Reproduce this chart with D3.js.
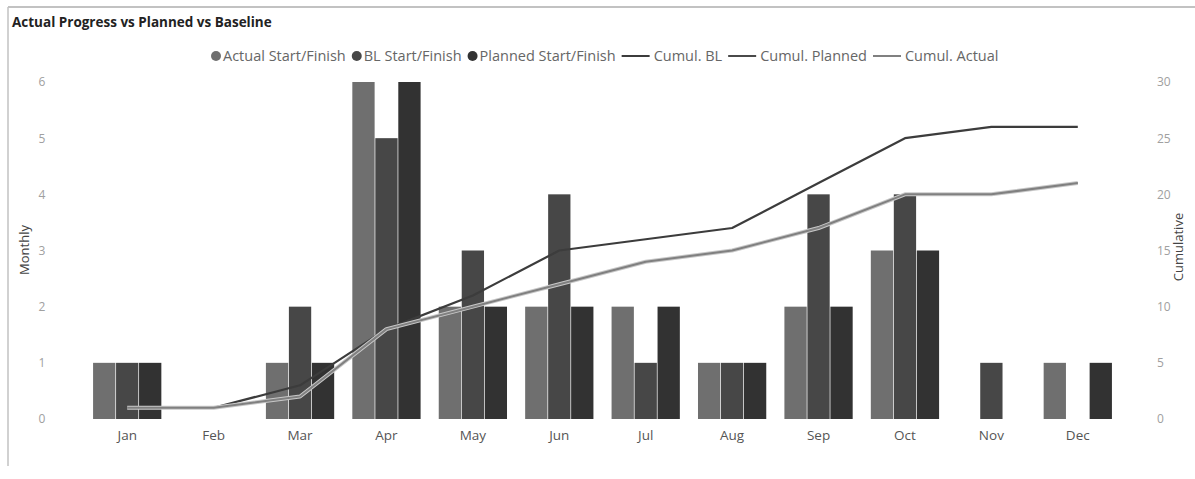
<!DOCTYPE html>
<html>
<head>
<meta charset="utf-8">
<script src="https://cdn.jsdelivr.net/npm/d3@7"></script>
<style>
  html, body { margin: 0; padding: 0; background: #fff; }
  svg { display: block; font-family: "Open Sans", "Noto Sans", sans-serif; }
</style>
</head>
<body>
<svg id="chart" width="1195" height="479"></svg>
<script>
// Monthly counts and cumulative totals
const months = ["Jan","Feb","Mar","Apr","May","Jun","Jul","Aug","Sep","Oct","Nov","Dec"];
const actualMonthly  = [1,0,1,6,2,2,2,1,2,3,0,1];
const blMonthly      = [1,0,2,5,3,4,1,1,4,4,1,0];
const plannedMonthly = [1,0,1,6,2,2,2,1,2,3,0,1];
const cumulBL      = [1,1,3,8,11,15,16,17,21,25,26,26];
const cumulPlanned = [1,1,2,8,10,12,14,15,17,20,20,21];
const cumulActual  = [1,1,2,8,10,12,14,15,17,20,20,21];
const leftTicks  = [0,1,2,3,4,5,6];
const rightTicks = [0,5,10,15,20,25,30];

const barSeries = [
  { name: "Actual Start/Finish",  values: actualMonthly,  color: "#6f6f6f" },
  { name: "BL Start/Finish",      values: blMonthly,      color: "#474747" },
  { name: "Planned Start/Finish", values: plannedMonthly, color: "#323232" }
];
const lineSeries = [
  { name: "Cumul. BL",      values: cumulBL,      color: "#3c3c3c", width: 2.2, halo: null },
  { name: "Cumul. Planned", values: cumulPlanned, color: "#4a4a4a", width: 2.2, halo: null },
  { name: "Cumul. Actual",  values: cumulActual,  color: "#808080", width: 2,   halo: "#c8c8c8" }
];

const svg = d3.select("#chart");
const plot = { left: 84, right: 1121, top: 82, bottom: 419 };

// Card frame
svg.append("line").attr("x1", 8).attr("x2", 1195).attr("y1", 7).attr("y2", 7)
  .attr("stroke", "#c2c2c2").attr("stroke-width", 2);
svg.append("line").attr("x1", 8).attr("x2", 8).attr("y1", 7).attr("y2", 466)
  .attr("stroke", "#c2c2c2").attr("stroke-width", 1.5);

svg.append("text").attr("x", 12).attr("y", 27)
  .attr("font-size", 13.5).attr("font-weight", 700).attr("fill", "#222")
  .text("Actual Progress vs Planned vs Baseline");

// Scales
const x = d3.scaleBand().domain(months).range([plot.left, plot.right])
  .paddingInner(0.21).paddingOuter(0.105);
const xSub = d3.scaleBand().domain(barSeries.map(s => s.name))
  .range([0, x.bandwidth()]).paddingInner(0.03);
const yLeft = d3.scaleLinear().domain([0, 6]).range([plot.bottom, plot.top]);
const yRight = d3.scaleLinear().domain([0, 30]).range([plot.bottom, plot.top]);

// Left axis
const leftAxis = svg.append("g").attr("transform", `translate(${plot.left - 42},0)`)
  .call(d3.axisLeft(yLeft).tickValues(leftTicks).tickFormat(d3.format("d")).tickSize(0).tickPadding(0));
leftAxis.select(".domain").remove();
leftAxis.selectAll("text").attr("fill", "#a0a0a0").attr("font-size", 12)
  .attr("text-anchor", "middle").attr("font-family", "Open Sans, sans-serif");

// Right axis
const rightAxis = svg.append("g").attr("transform", `translate(${plot.right + 36},0)`)
  .call(d3.axisRight(yRight).tickValues(rightTicks).tickFormat(d3.format("d")).tickSize(0).tickPadding(0));
rightAxis.select(".domain").remove();
rightAxis.selectAll("text").attr("fill", "#a0a0a0").attr("font-size", 12)
  .attr("font-family", "Open Sans, sans-serif");

// Bottom axis
const bottomAxis = svg.append("g").attr("transform", `translate(0,${plot.bottom + 7})`)
  .call(d3.axisBottom(x).tickSize(0).tickPadding(4));
bottomAxis.select(".domain").remove();
bottomAxis.selectAll("text").attr("fill", "#555").attr("font-size", 13.5)
  .attr("font-family", "Open Sans, sans-serif");

// Axis titles
svg.append("text").attr("transform", "translate(29,250) rotate(-90)")
  .attr("text-anchor", "middle").attr("font-size", 13).attr("fill", "#444").text("Monthly");
svg.append("text").attr("transform", "translate(1183,247) rotate(-90)")
  .attr("text-anchor", "middle").attr("font-size", 13).attr("fill", "#444").text("Cumulative");

// Bars
const groups = svg.append("g").selectAll("g").data(months).join("g")
  .attr("transform", d => `translate(${x(d)},0)`);
groups.selectAll("rect")
  .data((m, i) => barSeries.map(s => ({ s, v: s.values[i] })))
  .join("rect")
  .attr("x", d => xSub(d.s.name))
  .attr("width", xSub.bandwidth())
  .attr("y", d => yLeft(d.v))
  .attr("height", d => yLeft(0) - yLeft(d.v))
  .attr("fill", d => d.s.color);

// Cumulative lines
const line = d3.line()
  .x((d, i) => x(months[i]) + x.bandwidth() / 2)
  .y(d => yRight(d));
const lines = svg.append("g").attr("fill", "none").attr("stroke-linejoin", "round");
lineSeries.forEach(s => {
  if (s.halo) {
    lines.append("path").attr("d", line(s.values))
      .attr("stroke", s.halo).attr("stroke-width", s.width + 2);
  }
  lines.append("path").attr("d", line(s.values))
    .attr("stroke", s.color).attr("stroke-width", s.width);
});

// Legend
const legend = svg.append("g").attr("font-size", 14.5).attr("fill", "#666");
const legendItems = [
  ...barSeries.map(s => ({ name: s.name, color: s.color, kind: "dot" })),
  ...lineSeries.map(s => ({ name: s.name, color: s.color, kind: "line" }))
];
let lx = 211;
const ly = 56;
legendItems.forEach(item => {
  if (item.kind === "dot") {
    legend.append("circle").attr("cx", lx + 5).attr("cy", ly).attr("r", 5).attr("fill", item.color);
    lx += 12;
  } else {
    legend.append("line").attr("x1", lx).attr("x2", lx + 28).attr("y1", ly).attr("y2", ly)
      .attr("stroke", item.color).attr("stroke-width", 2);
    lx += 32;
  }
  const t = legend.append("text").attr("x", lx).attr("y", ly + 5).text(item.name);
  lx += t.node().getComputedTextLength() + 6;
});
</script>
</body>
</html>
